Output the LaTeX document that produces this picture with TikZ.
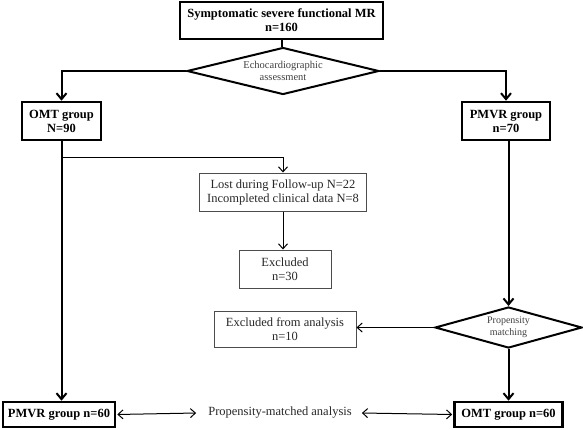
\documentclass[tikz,border=0pt]{standalone}
\usepackage{fontspec}
\setmainfont{Liberation Serif}
\usetikzlibrary{shapes.geometric,arrows.meta}
\begin{document}
\begin{tikzpicture}[x=1pt,y=-1pt,
 thickbox/.style={draw,line width=2.6pt,font=\bfseries\fontsize{12.5}{14}\selectfont,align=center,inner sep=0pt},
 thinbox/.style={draw=black!70,line width=1pt,font=\fontsize{12.5}{14}\selectfont,text=black!85,align=center,inner sep=0pt},
 dia/.style={draw,diamond,line width=2pt,inner sep=0pt,align=center,text=black!75},
 mainline/.style={line width=2pt},
 mainarrow/.style={line width=2pt,-{Straight Barb[length=6pt,width=10pt]}},
 thinarrow/.style={line width=1pt,-{Straight Barb[length=5pt,width=9pt]}},
 dblarrow/.style={line width=1pt,{Straight Barb[length=5pt,width=9pt]}-{Straight Barb[length=5pt,width=9pt]}},
]
\useasboundingbox (0,0) rectangle (583,429);
\node[thickbox,minimum width=203pt,minimum height=37pt] (top) at (281.5,20.5) {Symptomatic severe functional MR\\n=160};
\node[dia,aspect=4,minimum width=192pt,minimum height=47pt,font=\fontsize{10.5}{12}\selectfont] (echo) at (283,71) {Echocardiographic\\assessment};
\node[thickbox,minimum width=79pt,minimum height=38pt] (omt) at (61.5,121) {OMT group\\N=90};
\node[thickbox,minimum width=88pt,minimum height=38pt] (pmvr) at (506,121) {PMVR group\\n=70};
\node[thinbox,minimum width=167pt,minimum height=38pt] (lost) at (283,192) {Lost during Follow-up N=22\\Incompleted clinical data N=8};
\node[thinbox,minimum width=92pt,minimum height=38pt] (excl) at (285,269) {Excluded\\n=30};
\node[thinbox,minimum width=142pt,minimum height=36pt] (exclan) at (285,329) {Excluded from analysis\\n=10};
\node[dia,aspect=3.5,minimum width=147pt,minimum height=41pt,font=\fontsize{10}{11.5}\selectfont] (prop) at (508.5,327.5) {Propensity\\matching};
\node[thickbox,minimum width=112pt,minimum height=25pt] (pmvr60) at (59,414.5) {PMVR group n=60};
\node[thickbox,minimum width=108pt,minimum height=25pt] (omt60) at (508.5,414.5) {OMT group n=60};
\node[inner sep=0pt,font=\fontsize{12.5}{14}\selectfont,text=black!85] (ana) at (280,413) {Propensity-matched analysis};

\draw[mainline] (top) -- (top.south |- echo.north);
\draw[mainarrow] (echo.west) -| (omt.north);
\draw[mainarrow] (echo.east) -| (pmvr.north);
\draw[mainarrow] (omt.south) -- (omt.south |- pmvr60.north);
\path (omt.south) ++(0,16) coordinate (br);
\draw[thinarrow] (br) -| (lost.north);
\draw[thinarrow] (lost.south) -- (lost.south |- excl.north);
\draw[mainarrow] (prop.north |- pmvr.south) -- (prop.north);
\draw[thinarrow] (prop.west) -- (prop.west -| exclan.east);
\draw[mainarrow] (prop.south) -- (omt60.north);
\draw[dblarrow,shorten <=1pt] (pmvr60.east) -- ([xshift=-12pt]ana.west);
\draw[dblarrow,shorten >=1pt] ([xshift=10pt]ana.east) -- (omt60.west);
\end{tikzpicture}
\end{document}
